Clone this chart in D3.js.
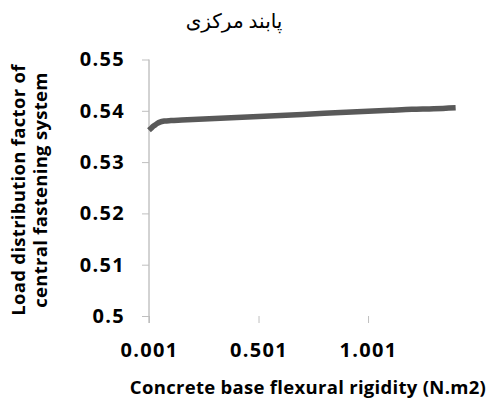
<html>
<head>
	<meta charset="utf-8">
	<script src="https://d3js.org/d3.v7.min.js"></script>
	<style>
	body { margin: 0; background: #fff; }
	.tick text { font-family: "Open Sans", sans-serif; font-weight: bold; font-size: 20px; fill: #000; letter-spacing: 1.3px; }
	.axis-title { font-family: "Open Sans", sans-serif; font-weight: bold; font-size: 18.5px; fill: #000; letter-spacing: 0.3px; }
	.chart-title { font-family: "Liberation Serif", "DejaVu Sans", serif; font-size: 20px; fill: #000; }
	</style>
</head>
<body>
	<div id="chart"></div>
	<script>
		// data
		var rigidity = [0.001, 0.011, 0.021, 0.031, 0.041, 0.051, 0.071, 0.101, 0.151, 0.201,
		                0.301, 0.401, 0.501, 0.601, 0.701, 0.801, 0.901, 1.001, 1.101, 1.201, 1.301, 1.401];
		var factor = [0.5362, 0.5366, 0.5370, 0.5373, 0.5376, 0.5378, 0.5380, 0.5381, 0.5382, 0.5383,
		              0.5385, 0.5387, 0.5389, 0.5391, 0.5393, 0.5395, 0.5397, 0.5399, 0.5401, 0.5403, 0.5404, 0.5406];
		var xTicks = [0.001, 0.501, 1.001];
		var yTicks = [0.5, 0.51, 0.52, 0.53, 0.54, 0.55];

		var svg = d3.select("#chart").append("svg")
			.attr("width", 489)
			.attr("height", 400);

		var x = d3.scaleLinear().domain([0.001, 1.451]).range([149, 466.6]),
		    y = d3.scaleLinear().domain([0.5, 0.55]).range([316, 59.5]);

		// y axis
		var yAxis = svg.append("g")
			.attr("transform", "translate(" + x(0.001) + ",0)")
			.call(d3.axisLeft(y).tickValues(yTicks).tickSize(7).tickPadding(17)
				.tickFormat(function(d) { return d3.format("")(+d.toFixed(2)); }));
		yAxis.select(".domain").attr("stroke", "#a6a6a6").attr("d", "M0,59.5V323");
		yAxis.selectAll(".tick line").attr("stroke", "#bfbfbf");

		// x axis (line itself not shown)
		var xAxis = svg.append("g")
			.attr("transform", "translate(0," + y(0.5) + ")")
			.call(d3.axisBottom(x).tickValues(xTicks).tickSize(7).tickPadding(20)
				.tickFormat(d3.format(".3f")));
		xAxis.select(".domain").remove();
		xAxis.selectAll(".tick line").attr("stroke", "#bfbfbf");

		// line
		var line = d3.line()
			.x(function(d, i) { return x(rigidity[i]); })
			.y(function(d) { return y(d); })
			.curve(d3.curveMonotoneX);

		svg.append("path")
			.datum(factor)
			.attr("fill", "none")
			.attr("stroke", "#595959")
			.attr("stroke-width", 5.5)
			.attr("d", line);

		// titles
		svg.append("text")
			.attr("class", "chart-title")
			.attr("x", 234).attr("y", 28)
			.attr("text-anchor", "middle")
			.text("پابند مرکزی");

		svg.append("text")
			.attr("class", "axis-title")
			.attr("x", 308).attr("y", 394)
			.attr("text-anchor", "middle")
			.text("Concrete base flexural rigidity (N.m2)");

		var yTitle = svg.append("text")
			.attr("class", "axis-title")
			.attr("transform", "translate(0,190) rotate(-90)")
			.attr("text-anchor", "middle");
		yTitle.append("tspan").attr("x", 0).attr("y", 25).text("Load distribution factor of");
		yTitle.append("tspan").attr("x", 0).attr("y", 47).text("central fastening system");
	</script>
</body>
</html>
